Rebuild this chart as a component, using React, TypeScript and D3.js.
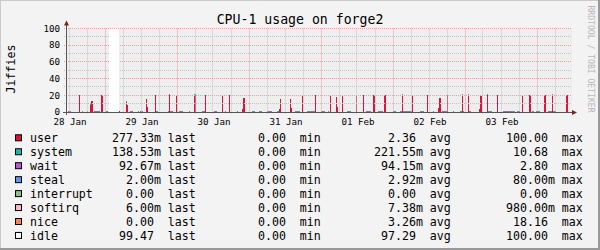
import React from "react";
import * as d3 from "d3";

const YEAR = "2013";
const parseTime = d3.timeParse("%Y-%m-%d %H:%M");
const T = (s: string) => parseTime(`${YEAR}-${s}`) as Date;

const START = "01-28 11:20";
const END = "02-04 11:40";
const STEP_MIN = 20;
const unknownRanges: [string, string][] = [["01-29 01:20", "01-29 04:40"]];

const yTicks = [0, 20, 40, 60, 80, 100];
const yMinorTicks = [10, 30, 50, 70, 90];

const seriesNames = ["user", "system", "wait", "steal", "interrupt", "softirq", "nice", "idle"];
const seriesColors = ["#dc143c", "#20b2aa", "#ba55d3", "#6495ed", "#8fbc8f", "#ffb6c1", "#ff7f50", "#eeeeee"];
const legendBoxColors = ["#dc143c", "#20b2aa", "#ba55d3", "#6495ed", "#8fbc8f", "#ffb6c1", "#ff7f50", "#f8f8f8"];
const lastVals = ["277.33m", "138.53m", "92.67m", "2.00m", "0.00", "6.00m", "0.00", "99.47"];
const minVals = ["0.00", "0.00", "0.00", "0.00", "0.00", "0.00", "0.00", "0.00"];
const avgVals = ["2.36", "221.55m", "94.15m", "2.92m", "0.00", "7.38m", "3.26m", "97.29"];
const maxVals = ["100.00", "10.68", "2.80", "80.00m", "0.00", "980.00m", "18.16", "100.00"];
const statLabels = ["last", "min", "avg", "max"];

// [start, number of 20-min steps, value]
type Seg = [string, number, number];
const userSegs: Seg[] = [
  ["01-28 15:20", 1, 20], ["01-28 19:00", 1, 8.5], ["01-28 19:20", 2, 13], ["01-28 22:40", 2, 20],
  ["01-29 04:40", 1, 1.5], ["01-29 07:00", 1, 12], ["01-29 07:20", 1, 8], ["01-29 13:40", 1, 16],
  ["01-29 14:00", 1, 6], ["01-29 16:40", 1, 20], ["01-29 21:20", 1, 20], ["01-29 23:40", 1, 20],
  ["01-30 05:40", 2, 20], ["01-30 09:20", 1, 20], ["01-30 15:00", 1, 20], ["01-30 17:20", 1, 20],
  ["01-30 21:40", 1, 4], ["01-30 22:00", 2, 17], ["01-31 10:00", 1, 4], ["01-31 10:20", 1, 15],
  ["01-31 13:40", 1, 15], ["01-31 14:00", 1, 5], ["01-31 17:40", 1, 20], ["01-31 22:00", 1, 20],
  ["02-01 03:00", 1, 20], ["02-01 05:00", 1, 18], ["02-01 05:20", 1, 6], ["02-01 07:00", 1, 20],
  ["02-01 11:40", 1, 20], ["02-01 14:00", 1, 20], ["02-01 17:20", 2, 20], ["02-01 21:00", 2, 20],
  ["02-02 03:00", 1, 20], ["02-02 06:20", 1, 20], ["02-02 11:20", 1, 20], ["02-02 15:00", 1, 5],
  ["02-02 15:20", 2, 17], ["02-02 18:00", 1, 20], ["02-02 23:00", 1, 20], ["02-03 01:00", 1, 20],
  ["02-03 04:40", 1, 3], ["02-03 05:00", 2, 19], ["02-03 07:20", 1, 20], ["02-03 10:40", 1, 20],
  ["02-03 19:00", 1, 20], ["02-03 21:20", 2, 20], ["02-04 02:20", 2, 20], ["02-04 05:00", 1, 20],
  ["02-04 09:40", 2, 20],
];
const systemSegs: Seg[] = [
  ["01-28 16:20", 1, 1.2], ["01-28 18:00", 1, 1.2], ["01-28 19:00", 1, 1.2], ["01-29 00:20", 2, 1.2],
  ["01-29 07:00", 1, 1.2], ["01-29 11:00", 1, 1.2], ["01-29 17:00", 2, 1.2], ["01-30 04:00", 1, 1.2],
  ["01-30 05:40", 2, 1.5], ["01-30 16:00", 1, 1.2], ["01-30 20:00", 1, 1.2], ["01-31 01:00", 3, 1.2],
  ["01-31 03:20", 3, 1.2], ["01-31 09:20", 2, 1.2], ["01-31 15:20", 5, 1.2], ["01-31 19:20", 8, 1.2],
  ["02-01 02:20", 1, 1.2], ["02-01 08:40", 4, 1.2], ["02-02 00:00", 3, 1.2], ["02-02 02:20", 12, 1.2],
  ["02-02 09:00", 4, 1.2], ["02-02 13:20", 1, 1.2], ["02-02 20:00", 1, 1.2], ["02-02 22:20", 4, 1.2],
  ["02-03 07:20", 5, 1.2], ["02-03 15:40", 3, 1.2], ["02-03 22:20", 2, 1.2], ["02-03 23:40", 4, 1.2],
  ["02-04 05:20", 3, 1.2],
];
const waitSegs: Seg[] = [
  ["01-28 11:40", 3, 1.2], ["01-28 20:20", 6, 1.2], ["01-29 08:20", 3, 1.2], ["01-29 11:40", 3, 1.2],
  ["01-29 21:00", 5, 1.2], ["01-30 00:40", 4, 1.2], ["01-30 08:20", 3, 1.2], ["01-30 12:20", 3, 1.2],
  ["01-31 06:00", 5, 1.2], ["02-01 00:00", 4, 1.2], ["02-01 15:00", 5, 1.2], ["02-01 19:00", 5, 1.2],
  ["02-02 16:20", 5, 1.2], ["02-03 01:00", 3, 1.2], ["02-03 12:40", 9, 1.2], ["02-03 17:20", 3, 1.2],
  ["02-04 03:40", 5, 1.2],
];
const stealSegs: Seg[] = [];
const interruptSegs: Seg[] = [];
const softirqSegs: Seg[] = [];
const niceSegs: Seg[] = [];

const W = 600, H = 250;
const PX0 = 67, PX1 = 572, PY0 = 112, PY100 = 28.5;

export default function App() {
  const t0 = T(START), t1 = T(END);
  const x = d3.scaleTime().domain([t0, t1]).range([PX0, PX1]);
  const y = d3.scaleLinear().domain([0, 100]).range([PY0, PY100]);
  const step = STEP_MIN * 60 * 1000;

  const keys = seriesNames.slice(0, 7);
  const segMap: Record<string, Seg[]> = {
    user: userSegs, system: systemSegs, wait: waitSegs, steal: stealSegs,
    interrupt: interruptSegs, softirq: softirqSegs, nice: niceSegs,
  };
  const buckets = new Map<number, any>();
  keys.forEach((k) => {
    segMap[k].forEach(([s, n, v]) => {
      const st = T(s).getTime();
      for (let i = 0; i < n; i++) {
        const tt = st + i * step;
        if (!buckets.has(tt)) {
          const r: any = { t: tt };
          keys.forEach((kk) => (r[kk] = 0));
          buckets.set(tt, r);
        }
        buckets.get(tt)[k] += v;
      }
    });
  });
  const rows = Array.from(buckets.values()).sort((a, b) => a.t - b.t);
  const stacked = d3.stack<any>().keys(keys)(rows);

  const unk = unknownRanges.map(([a, b]) => [T(a), T(b)] as [Date, Date]);
  const known: [Date, Date][] = [];
  let cur = t0;
  unk.forEach(([a, b]) => { known.push([cur, a]); cur = b; });
  known.push([cur, t1]);

  const sixH = d3.timeHour.every(6)!.range(t0, t1);
  const days = d3.timeDay.range(t0, t1);
  const minorV = sixH.filter((d) => d.getHours() !== 0);
  const noonLabels = d3.timeDay.range(d3.timeDay.floor(t0), t1).map((d) => d3.timeHour.offset(d, 12)).filter((d) => d >= t0 && d <= t1);
  const fmtDay = d3.timeFormat("%d %b");

  const snap = (v: number) => Math.floor(v) + 0.5;

  const fmtVal = (s: string) => {
    const m = s.endsWith("m");
    const num = m ? s.slice(0, -1) : s;
    return num.padStart(6, " ") + (m ? "m" : " ");
  };
  const statCols = [lastVals, minVals, avgVals, maxVals];
  const statX = [112, 244, 374, 506];

  return (
    <svg width={W} height={H} style={{ position: "absolute", left: 0, top: 0, fontFamily: '"DejaVu Sans Mono", monospace' }}>
      <rect width={W} height={H} fill="#f3f3f3" />
      <line x1={0} y1={0.5} x2={W} y2={0.5} stroke="#cbcbcb" />
      <line x1={0.5} y1={0} x2={0.5} y2={H} stroke="#cbcbcb" />
      <rect x={0} y={H - 2} width={W} height={2} fill="#999999" />
      <rect x={W - 2} y={0} width={2} height={H} fill="#999999" />

      <text x={300} y={24} textAnchor="middle" fontSize={13.2} fill="#000">CPU-1 usage on forge2</text>
      <text transform={`translate(15,69) rotate(-90)`} textAnchor="middle" fontSize={11.6} fill="#000">Jiffies</text>
      <text transform={`translate(588.3,59) rotate(90)`} textAnchor="middle" fontSize={8.1} fill="#b8b8b8">RRDTOOL / TOBI OETIKER</text>

      <rect x={PX0} y={PY100} width={PX1 - PX0} height={PY0 - PY100} fill="#ffffff" />
      {known.map(([a, b], i) => (
        <rect key={`idle${i}`} x={x(a)} y={y(100)} width={x(b) - x(a)} height={y(0) - y(100)} fill={seriesColors[7]} />
      ))}
      <g shapeRendering="crispEdges">
        {stacked.map((layer, li) =>
          layer.map((d, i) =>
            d[1] > d[0] ? (
              <rect key={`${li}-${i}`} x={x(new Date(d.data.t))} width={x(new Date(d.data.t + step)) - x(new Date(d.data.t))}
                y={y(d[1])} height={y(d[0]) - y(d[1])} fill={seriesColors[li]} />
            ) : null
          )
        )}
      </g>

      <g strokeDasharray="1,1" strokeWidth={1}>
        {yMinorTicks.map((v) => (
          <line key={`hy${v}`} x1={64} x2={PX1} y1={snap(y(v))} y2={snap(y(v))} stroke="#c4c4c4" />
        ))}
        {minorV.map((d, i) => (
          <line key={`vx${i}`} x1={snap(x(d))} x2={snap(x(d))} y1={PY100} y2={114} stroke="#c4c4c4" />
        ))}
        {yTicks.filter((v) => v > 0).map((v) => (
          <line key={`Hy${v}`} x1={64} x2={PX1} y1={snap(y(v))} y2={snap(y(v))} stroke="#e8a0a0" />
        ))}
        {days.map((d, i) => (
          <line key={`Vx${i}`} x1={snap(x(d))} x2={snap(x(d))} y1={PY100} y2={114} stroke="#e8a0a0" />
        ))}
      </g>

      {unk.map(([a, b], i) => (
        <rect key={`unk${i}`} x={x(a)} y={y(100)} width={x(b) - x(a)} height={y(0) - y(100)} fill="#ffffff" shapeRendering="crispEdges" />
      ))}

      <line x1={63} x2={574} y1={snap(y(0))} y2={snap(y(0))} stroke="#555" />
      <line x1={66.5} x2={66.5} y1={115} y2={24} stroke="#555" />
      <polygon points="572,110 572,115 577,112.5" fill="#7f1f1f" />
      <polygon points="64,25.5 69,25.5 66.5,20.5" fill="#7f1f1f" />

      <g fontSize={9.2} fill="#000">
        {yTicks.map((v) => (
          <text key={`yl${v}`} x={60} y={y(v) + 3.2} textAnchor="end">{v}</text>
        ))}
        {noonLabels.map((d, i) => (
          <text key={`xl${i}`} x={x(d) + 1} y={125} textAnchor="middle">{fmtDay(d)}</text>
        ))}
      </g>

      <g fontSize={11.6} fill="#000">
        {seriesNames.map((name, i) => {
          const b = 142.3 + i * 13.95;
          return (
            <g key={name}>
              <rect x={15.5} y={b - 7.5} width={6} height={6} fill={legendBoxColors[i]} stroke="#000" />
              <text x={30} y={b}>{name}</text>
              {statCols.map((col, j) => (
                <text key={j} x={statX[j]} y={b} style={{ whiteSpace: "pre" }} xmlSpace="preserve">
                  {`${fmtVal(col[i])} ${statLabels[j]}`}
                </text>
              ))}
            </g>
          );
        })}
      </g>
    </svg>
  );
}
